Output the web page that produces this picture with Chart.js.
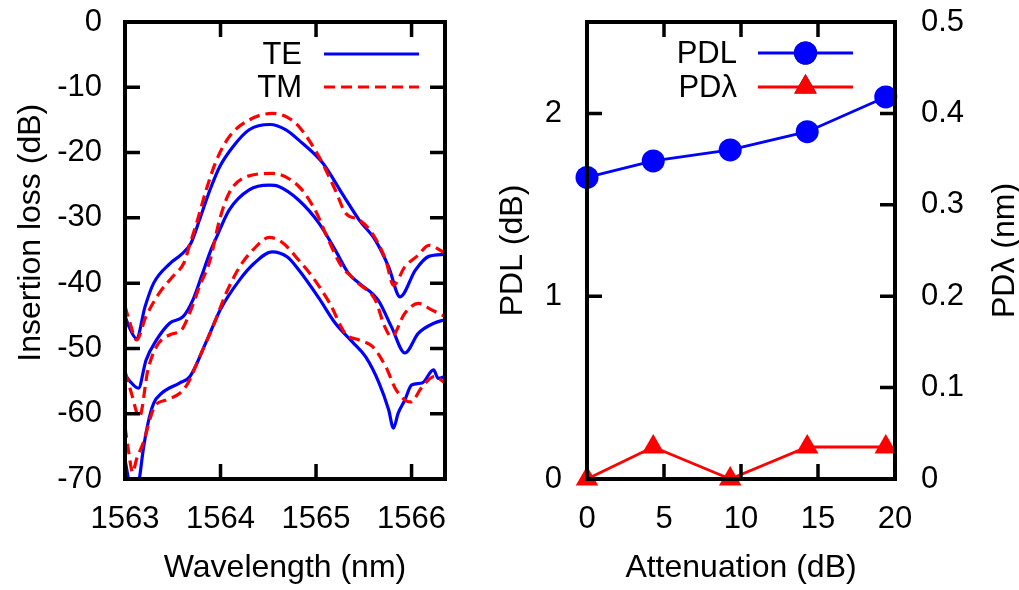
<!DOCTYPE html>
<html>
<head>
<meta charset="utf-8">
<script src="https://cdn.jsdelivr.net/npm/chart.js@4.4.1/dist/chart.umd.min.js"></script>
<style>
  html, body { margin: 0; padding: 0; background: #fff; overflow: hidden; }
  #left { position: absolute; left: 0; top: 0; }
  #right { position: absolute; left: 470px; top: 0; }
</style>
</head>
<body>
<canvas id="left" width="470" height="590"></canvas>
<canvas id="right" width="560" height="590"></canvas>
<script>
// ---- left panel: insertion loss spectra, three attenuation settings ----
const teHighWl = [1563.00, 1563.04, 1563.12, 1563.21, 1563.30, 1563.47, 1563.59, 1563.69, 1563.78, 1563.89, 1563.99, 1564.13, 1564.30, 1564.52, 1564.68, 1564.82, 1565.07, 1565.27, 1565.45, 1565.62, 1565.76, 1565.88, 1566.04, 1566.18, 1566.35];
const teHighDb = [-45.0, -46.6, -48.5, -43.6, -40.0, -37.0, -35.6, -33.9, -30.3, -25.7, -22.2, -19.1, -16.5, -15.7, -16.5, -18.1, -21.6, -26.2, -30.3, -33.4, -37.5, -42.1, -38.0, -35.9, -35.6];

const tmHighWl = [1563.00, 1563.05, 1563.12, 1563.22, 1563.36, 1563.50, 1563.62, 1563.68, 1563.75, 1563.85, 1563.96, 1564.09, 1564.30, 1564.54, 1564.70, 1564.82, 1565.03, 1565.20, 1565.31, 1565.45, 1565.59, 1565.73, 1565.81, 1565.93, 1566.07, 1566.18, 1566.35];
const tmHighDb = [-43.5, -46.0, -48.7, -45.1, -41.5, -39.0, -36.8, -34.0, -30.8, -25.7, -21.1, -17.6, -15.0, -14.0, -14.6, -16.0, -20.6, -25.7, -29.3, -30.3, -32.4, -36.5, -40.3, -37.5, -35.7, -34.2, -35.4];

const teMidWl = [1563.00, 1563.05, 1563.14, 1563.22, 1563.33, 1563.47, 1563.61, 1563.71, 1563.80, 1563.90, 1563.96, 1564.09, 1564.30, 1564.51, 1564.61, 1564.82, 1565.03, 1565.20, 1565.34, 1565.45, 1565.65, 1565.79, 1565.93, 1566.07, 1566.24, 1566.35];
const teMidDb = [-54.0, -55.0, -56.1, -51.8, -48.7, -46.1, -45.1, -42.6, -39.0, -34.9, -32.9, -28.8, -25.7, -25.0, -25.2, -27.3, -30.8, -34.9, -38.5, -40.0, -42.6, -46.7, -50.7, -47.7, -46.1, -45.6];

const tmMidWl = [1563.00, 1563.07, 1563.15, 1563.24, 1563.33, 1563.47, 1563.59, 1563.69, 1563.78, 1563.89, 1563.99, 1564.09, 1564.27, 1564.54, 1564.82, 1564.99, 1565.13, 1565.27, 1565.37, 1565.44, 1565.62, 1565.72, 1565.79, 1565.93, 1566.07, 1566.21, 1566.35];
const tmMidDb = [-53.5, -57.0, -60.5, -53.3, -49.7, -47.9, -47.2, -44.1, -40.5, -36.5, -30.3, -26.2, -23.7, -23.2, -25.2, -28.8, -33.4, -37.5, -39.0, -40.0, -42.6, -46.7, -48.2, -44.6, -43.1, -44.1, -45.1];

const teLowWl = [1563.00, 1563.05, 1563.10, 1563.15, 1563.19, 1563.24, 1563.30, 1563.38, 1563.57, 1563.68, 1563.85, 1564.00, 1564.20, 1564.35, 1564.54, 1564.70, 1564.82, 1565.03, 1565.20, 1565.38, 1565.52, 1565.66, 1565.76, 1565.81, 1565.86, 1565.93, 1566.00, 1566.11, 1566.23, 1566.28, 1566.35];
const teLowDb = [-67.0, -71.0, -73.0, -70.0, -65.6, -61.5, -58.4, -56.9, -55.3, -54.3, -49.0, -44.0, -39.5, -37.0, -35.2, -36.0, -38.0, -42.3, -46.1, -49.0, -51.3, -55.3, -59.4, -62.2, -59.9, -57.9, -55.6, -55.3, -53.3, -54.6, -54.3];

const tmLowWl = [1563.00, 1563.04, 1563.08, 1563.12, 1563.19, 1563.31, 1563.43, 1563.57, 1563.66, 1563.78, 1563.92, 1564.06, 1564.20, 1564.34, 1564.51, 1564.65, 1564.82, 1564.96, 1565.14, 1565.31, 1565.45, 1565.59, 1565.73, 1565.84, 1565.99, 1566.11, 1566.24, 1566.35];
const tmLowDb = [-62.0, -66.0, -69.0, -67.0, -64.5, -58.9, -57.9, -56.9, -55.3, -51.3, -46.7, -41.5, -37.5, -34.9, -33.0, -33.8, -36.5, -39.0, -43.0, -47.8, -48.7, -49.7, -52.8, -56.4, -58.2, -55.9, -54.3, -55.3];

const wavelengthTicks = [1563, 1564, 1565, 1566];
const lossTicks = [0, -10, -20, -30, -40, -50, -60, -70];

// ---- right panel: PDL and PD-lambda vs attenuation ----
const attenuation = [0, 4.3, 9.3, 14.3, 19.4];
const pdl = [1.65, 1.74, 1.80, 1.90, 2.09];
const pdLambda = [0, 0.035, 0, 0.035, 0.035];

const attenuationTicks = [0, 5, 10, 15, 20];
const pdlTicks = [0, 1, 2];
const pdLambdaTicks = [0, 0.1, 0.2, 0.3, 0.4, 0.5];

const FONT = "'Liberation Sans', Arial, sans-serif";
Chart.defaults.font.family = FONT;
Chart.defaults.color = '#000';

const BLUE = '#0000ff';
const RED = '#ff0000';
const tickFont = { size: 31 };
const titleFont = { size: 32 };

function pts(xs, ys) {
  return xs.map((x, i) => ({ x: x, y: ys[i] }));
}
function fixedTicks(list) {
  return s => { s.ticks = list.map(v => ({ value: v })); };
}
// force the axis box size and stop label overhang from moving the plot
function fixSize(size) {
  return s => {
    if (s.isHorizontal()) s.height = size; else s.width = size;
    s.paddingTop = 0; s.paddingBottom = 0;
    s.paddingLeft = 0; s.paddingRight = 0;
  };
}

// gnuplot-like box with inward ticks
const frame = {
  id: 'frame',
  afterDatasetsDraw(chart, args, opts) {
    const { ctx, chartArea: a } = chart;
    const len = 15;
    ctx.save();
    ctx.strokeStyle = '#000';
    ctx.lineWidth = 3.5;
    ctx.beginPath();
    Object.values(chart.scales).forEach(s => {
      s.ticks.forEach(t => {
        const p = s.getPixelForValue(t.value);
        if (s.isHorizontal()) {
          if (p < a.left + 3 || p > a.right - 3) return;
          ctx.moveTo(p, a.bottom); ctx.lineTo(p, a.bottom - len);
          ctx.moveTo(p, a.top); ctx.lineTo(p, a.top + len);
        } else {
          if (p < a.top + 3 || p > a.bottom - 3) return;
          if (s.position === 'left' || opts.mirrorY) {
            ctx.moveTo(a.left, p); ctx.lineTo(a.left + len, p);
          }
          if (s.position === 'right' || opts.mirrorY) {
            ctx.moveTo(a.right, p); ctx.lineTo(a.right - len, p);
          }
        }
      });
    });
    ctx.stroke();
    ctx.lineWidth = 4;
    ctx.strokeRect(a.left, a.top, a.right - a.left, a.bottom - a.top);
    ctx.restore();
  }
};

// key drawn inside the plot, text left of the sample
const key = {
  id: 'key',
  afterDraw(chart, args, opts) {
    const ctx = chart.ctx;
    ctx.save();
    ctx.font = '31px ' + FONT;
    ctx.textAlign = 'right';
    ctx.textBaseline = 'middle';
    opts.entries.forEach((e, i) => {
      const ds = chart.data.datasets[e.index];
      const y = opts.y[i];
      ctx.fillStyle = '#000';
      ctx.fillText(e.text, opts.textRight, y + 1);
      ctx.strokeStyle = ds.borderColor;
      ctx.lineWidth = ds.borderWidth;
      ctx.setLineDash(ds.borderDash || []);
      ctx.beginPath();
      ctx.moveTo(opts.x0, y);
      ctx.lineTo(opts.x1, y);
      ctx.stroke();
      ctx.setLineDash([]);
      if (ds.pointRadius) {
        Chart.helpers.drawPoint(ctx, {
          pointStyle: ds.pointStyle, radius: ds.pointRadius, rotation: 0, borderWidth: 0
        }, (opts.x0 + opts.x1) / 2, y);
        ctx.fillStyle = ds.pointBackgroundColor;
        ctx.fill();
      }
    });
    ctx.restore();
  }
};

// right-hand axis title, read bottom to top like the left one
const rightTitle = {
  id: 'rightTitle',
  afterDraw(chart, args, opts) {
    if (!opts.text) return;
    const { ctx, chartArea: a } = chart;
    ctx.save();
    ctx.font = '32px ' + FONT;
    ctx.fillStyle = '#000';
    ctx.textAlign = 'center';
    ctx.textBaseline = 'middle';
    ctx.translate(opts.x, (a.top + a.bottom) / 2);
    ctx.rotate(-Math.PI / 2);
    ctx.fillText(opts.text, 0, 0);
    ctx.restore();
  }
};

function spectrum(label, xs, ys, color, dashed) {
  return {
    label: label,
    data: pts(xs, ys),
    borderColor: color,
    borderWidth: 3.2,
    borderDash: dashed ? [11, 6] : [],
    pointRadius: 0,
    cubicInterpolationMode: 'monotone',
    fill: false,
    order: dashed ? 0 : 1
  };
}

new Chart(document.getElementById('left'), {
  type: 'line',
  data: {
    datasets: [
      spectrum('TE', teHighWl, teHighDb, BLUE, false),
      spectrum('TM', tmHighWl, tmHighDb, RED, true),
      spectrum('TE', teMidWl, teMidDb, BLUE, false),
      spectrum('TM', tmMidWl, tmMidDb, RED, true),
      spectrum('TE', teLowWl, teLowDb, BLUE, false),
      spectrum('TM', tmLowWl, tmLowDb, RED, true)
    ]
  },
  options: {
    responsive: false,
    animation: false,
    events: [],
    layout: { padding: { top: 22, right: 25, left: 0, bottom: 0 } },
    plugins: {
      legend: { display: false },
      tooltip: { enabled: false },
      frame: { mirrorY: true },
      key: {
        entries: [{ text: 'TE', index: 0 }, { text: 'TM', index: 1 }],
        y: [54, 87], textRight: 302, x0: 324, x1: 419
      }
    },
    scales: {
      x: {
        type: 'linear',
        min: 1563, max: 1566.35,
        afterBuildTicks: fixedTicks(wavelengthTicks),
        afterFit: fixSize(111),
        grid: { display: false },
        border: { display: false },
        ticks: { font: tickFont, padding: 14, maxRotation: 0, callback: v => String(v) },
        title: { display: true, text: 'Wavelength (nm)', font: titleFont, padding: { top: 0, bottom: 3 } }
      },
      y: {
        min: -70, max: 0,
        afterBuildTicks: fixedTicks(lossTicks),
        afterFit: fixSize(125),
        grid: { display: false },
        border: { display: false },
        ticks: { font: tickFont, padding: 15 },
        title: { display: true, text: '    Insertion loss (dB)', font: titleFont, padding: { top: 12, bottom: 0 } }
      }
    }
  },
  plugins: [frame, key]
});

new Chart(document.getElementById('right'), {
  type: 'line',
  data: {
    datasets: [
      {
        label: 'PDL',
        data: pts(attenuation, pdl),
        yAxisID: 'y',
        borderColor: BLUE,
        borderWidth: 2.8,
        pointStyle: 'circle',
        pointRadius: 11.5,
        pointBackgroundColor: BLUE,
        pointBorderWidth: 0,
        tension: 0,
        clip: false
      },
      {
        label: 'PD\u03bb',
        data: pts(attenuation, pdLambda),
        yAxisID: 'y2',
        borderColor: RED,
        borderWidth: 2.8,
        pointStyle: 'triangle',
        pointRadius: 13,
        pointBackgroundColor: RED,
        pointBorderWidth: 0,
        tension: 0,
        clip: false
      }
    ]
  },
  options: {
    responsive: false,
    animation: false,
    events: [],
    layout: { padding: { top: 22, right: 0, left: 0, bottom: 0 } },
    plugins: {
      legend: { display: false },
      tooltip: { enabled: false },
      frame: { mirrorY: false },
      key: {
        entries: [{ text: 'PDL', index: 0 }, { text: 'PD\u03bb', index: 1 }],
        y: [53, 87], textRight: 267, x0: 288, x1: 383
      },
      rightTitle: { text: 'PD\u03bb (nm)', x: 535 }
    },
    scales: {
      x: {
        type: 'linear',
        min: 0, max: 20,
        afterBuildTicks: fixedTicks(attenuationTicks),
        afterFit: fixSize(111),
        grid: { display: false },
        border: { display: false },
        ticks: { font: tickFont, padding: 14, maxRotation: 0 },
        title: { display: true, text: 'Attenuation (dB)', font: titleFont, padding: { top: 0, bottom: 3 } }
      },
      y: {
        position: 'left',
        min: 0, max: 2.5,
        afterBuildTicks: fixedTicks(pdlTicks),
        afterFit: fixSize(117),
        grid: { display: false },
        border: { display: false },
        ticks: { font: tickFont, padding: 17 },
        title: { display: true, text: 'PDL (dB)', font: titleFont, padding: { top: 24, bottom: 0 } }
      },
      y2: {
        position: 'right',
        min: 0, max: 0.5,
        afterBuildTicks: fixedTicks(pdLambdaTicks),
        afterFit: fixSize(135),
        grid: { display: false },
        border: { display: false },
        ticks: { font: tickFont, padding: 18, callback: v => v === 0 ? '0' : v.toFixed(1) }
      }
    }
  },
  plugins: [frame, key, rightTitle]
});
</script>
</body>
</html>
